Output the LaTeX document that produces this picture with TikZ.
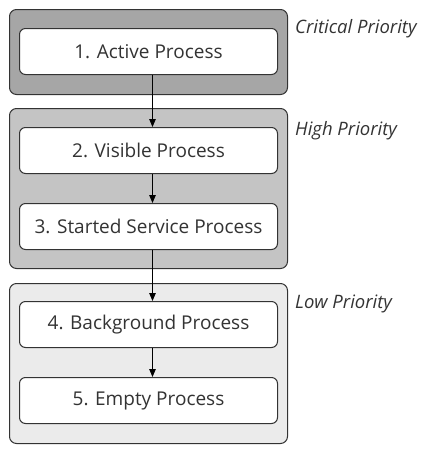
\documentclass[tikz,border=0pt]{standalone}
\usepackage{fontspec}
\setmainfont{Open Sans}
\usetikzlibrary{arrows.meta}
\definecolor{critfill}{HTML}{A6A6A6}
\definecolor{highfill}{HTML}{C4C4C4}
\definecolor{lowfill}{HTML}{EBEBEB}
\definecolor{edge}{HTML}{333333}
\definecolor{txt}{HTML}{333333}
\tikzset{
  group/.style={draw=edge, line width=1pt, rounded corners=7pt, minimum width=278pt, anchor=north west, inner sep=0pt},
  proc/.style={draw=edge, fill=white, line width=1pt, rounded corners=6pt, minimum width=258pt, minimum height=46pt, anchor=north west, inner sep=0pt, font=\fontsize{19}{22}\selectfont, text=txt},
  lab/.style={anchor=west, font=\fontsize{18.5}{22}\selectfont\itshape, text=txt, inner sep=0pt},
  flow/.style={draw=black, line width=1pt, -{Triangle[length=8pt,width=6.5pt]}}
}
\begin{document}
\begin{tikzpicture}[x=1pt,y=-1pt]
\useasboundingbox (0,0) rectangle (442,451);
\node[group, fill=critfill, minimum height=85pt] (gc) at (9,9) {};
\node[group, fill=highfill, minimum height=160pt] (gh) at (9,108) {};
\node[group, fill=lowfill, minimum height=160pt] (gl) at (9,283) {};
\node[proc] (p1) at (19,28) {1. Active Process};
\node[proc] (p2) at (19,127) {2. Visible Process};
\node[proc] (p3) at (19,203) {3. Started Service Process};
\node[proc] (p4) at (19,301) {4. Background Process};
\node[proc] (p5) at (19,377) {5. Empty Process};
\node[lab] (lc) at (295,29) {Critical Priority};
\node[lab] (lh) at (295,131) {High Priority};
\node[lab] (ll) at (295,304) {Low Priority};
\draw[flow] ([xshift=4pt]p1.south) -- ([xshift=4pt]p2.north);
\draw[flow] ([xshift=4pt]p2.south) -- ([xshift=4pt]p3.north);
\draw[flow] ([xshift=4pt]p3.south) -- ([xshift=4pt]p4.north);
\draw[flow] ([xshift=4pt]p4.south) -- ([xshift=4pt]p5.north);
\end{tikzpicture}
\end{document}
